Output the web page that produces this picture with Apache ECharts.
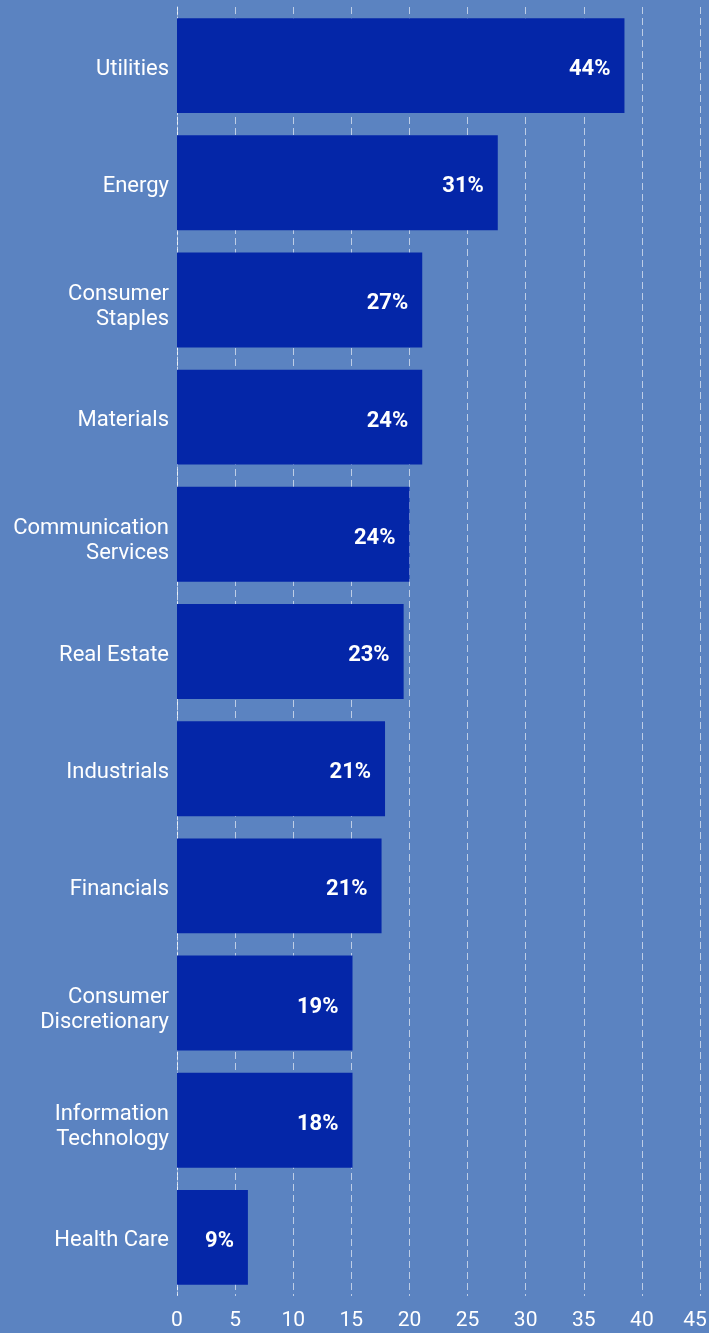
<!DOCTYPE html>
<html>
<head>
<meta charset="utf-8">
<script src="https://cdn.jsdelivr.net/npm/echarts@6/dist/echarts.min.js"></script>
<style>
html,body{margin:0;padding:0;background:#5b83c1;overflow:hidden;}
#chart{width:709px;height:1333px;}
</style>
</head>
<body>
<div id="chart"></div>
<script>
var categories = ["Utilities","Energy","Consumer\nStaples","Materials","Communication\nServices","Real Estate","Industrials","Financials","Consumer\nDiscretionary","Information\nTechnology","Health Care"];
var barValues = [38.5, 27.6, 21.1, 21.1, 20.0, 19.5, 17.9, 17.6, 15.1, 15.1, 6.1];
var labelValues = ["44%","31%","27%","24%","24%","23%","21%","21%","19%","18%","9%"];
var xTicks = [0, 5, 10, 15, 20, 25, 30, 35, 40, 45];

var chart = echarts.init(document.getElementById('chart'));
chart.setOption({
  backgroundColor: '#5b83c1',
  animation: false,
  grid: {left: 177, right: 9, top: 7, bottom: 37, containLabel: false, outerBoundsMode: 'none'},
  xAxis: {
    type: 'value', min: 0, max: 45, interval: 5,
    axisLine: {show: false}, axisTick: {show: false},
    axisLabel: {color: '#ffffff', fontSize: 21, fontFamily: 'Roboto', margin: 14,
      formatter: function(v){
        if (xTicks.indexOf(v) < 0) return '';
        return v === xTicks[xTicks.length - 1] ? '{m|' + v + '}' : String(v);
      },
      rich: {m: {color: '#ffffff', fontSize: 21, fontFamily: 'Roboto', padding: [0, 10, 0, 0]}}
    },
    splitLine: {show: true, lineStyle: {color: 'rgba(255,255,255,0.6)', width: 1, type: [7, 4]}}
  },
  yAxis: {
    type: 'category', data: categories, inverse: true,
    axisLine: {show: true, lineStyle: {color: 'rgba(255,255,255,0.7)', width: 1, type: [3, 2]}},
    axisTick: {show: false},
    axisLabel: {color: '#ffffff', fontSize: 22, fontFamily: 'Roboto', margin: 8, align: 'right',
      formatter: function(v){
        var lines = v.split('\n');
        var sp = lines.length > 1 ? '{s2|}' : '{s1|}';
        return sp + '\n' + lines.map(function(l){ return '{t|' + l + '}'; }).join('\n');
      },
      rich: {
        s1: {lineHeight: 7, fontSize: 1},
        s2: {lineHeight: 14, fontSize: 1},
        t: {color: '#ffffff', fontSize: 22, fontFamily: 'Roboto', lineHeight: 25, align: 'right'}
      }
    }
  },
  series: [{
    type: 'bar', data: barValues, barCategoryGap: '19%',
    itemStyle: {color: '#0426a8'},
    z: 1,
    label: {show: true, position: 'insideRight', distance: 14, color: '#ffffff', fontSize: 22, fontWeight: 'bold', fontFamily: 'Roboto', offset: [0, 4],
      formatter: function(p){ return labelValues[p.dataIndex]; }}
  }]
});
</script>
</body>
</html>
